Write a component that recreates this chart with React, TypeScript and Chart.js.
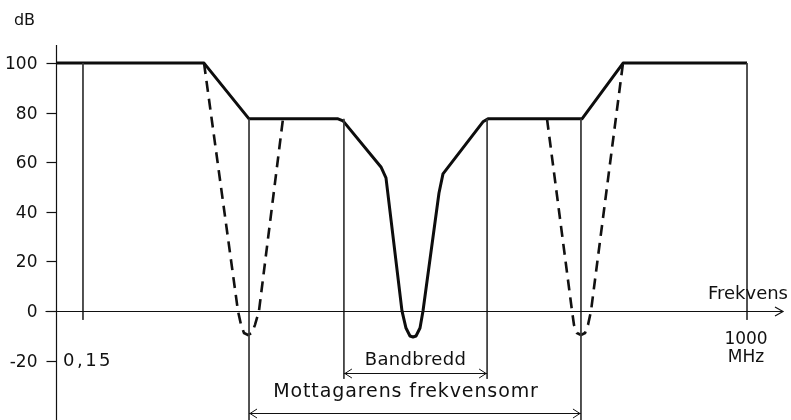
import React, { useEffect, useRef } from "react";
import { Chart, registerables } from "chart.js";

Chart.register(...registerables);

// Horizontal position is relative: 0 = dB axis, 100 = tip of the frequency arrow.
// Receiver response curve (solid)
const responseX = [0, 20.36, 26.55, 38.79, 39.48, 44.7, 45.39, 47.59, 48.14, 48.69, 49.11, 49.52, 50.07, 50.48, 52.68, 53.23, 58.73, 59.42, 72.35, 78.0, 95.05];
const responseDb = [100, 100, 77.5, 77.5, 76.7, 58.1, 53.7, 0, -6.9, -10.1, -10.5, -10.1, -6.9, 0, 47.6, 55.3, 76.3, 77.5, 77.5, 100, 100];

// Spurious responses (dashed)
const lowNotchX = [20.36, 25.03, 25.45, 25.86, 26.41, 26.96, 27.37, 27.92, 31.22];
const lowNotchDb = [100, 0, -5.6, -8.9, -9.7, -8.9, -5.6, 0, 77.5];
const highNotchX = [67.54, 70.98, 71.25, 71.66, 72.21, 72.77, 73.18, 73.59, 77.99];
const highNotchDb = [77.5, 0, -5.6, -8.9, -9.7, -8.9, -5.6, 0, 100];

// Thin vertical guides
const guideX = [3.71, 26.55, 39.6, 59.3, 72.21, 95.05];
const guideTop = [100, 77.5, 77.5, 77.5, 77.5, 100];
const guideBottom = [-3.6, -44, -27.4, -27.4, -44, -3.6];

// Y axis ticks
const yTicks = [100, 80, 60, 40, 20, 0, -20];
const yTickLabels = ["100", "80", "60", "40", "20", "0", "-20"];

// Frequency marks
const freqMarkX = [3.71, 95.05];
const freqMarkLabels = ["0,15", "1000"];
const freqUnit = "MHz";

// Dimension lines: [from, to, level]
const bandwidthSpan = [39.6, 59.3, -25];
const rangeSpan = [26.55, 72.21, -41.2];
const bandwidthLabel = "Bandbredd";
const rangeLabel = "Mottagarens frekvensomr";
const xAxisLabel = "Frekvens";
const yAxisLabel = "dB";

const X_MIN = 0;
const X_MAX = 100;
const Y_MIN = -44;
const Y_MAX = 107.3;

const FONT = "DejaVu Sans";

const pts = (xs: number[], ys: number[]) => xs.map((x, i) => ({ x, y: ys[i] }));

const annotationPlugin = {
  id: "schematicAxes",
  afterDatasetsDraw(chart: any) {
    const { ctx, chartArea } = chart;
    const xs = chart.scales.x;
    const ys = chart.scales.y;
    const px = (v: number) => xs.getPixelForValue(v);
    const py = (v: number) => ys.getPixelForValue(v);

    ctx.save();
    ctx.strokeStyle = "#111";
    ctx.fillStyle = "#111";
    ctx.lineWidth = 1.2;

    const x0 = Math.round(px(0)) + 0.5;
    const y0 = Math.round(py(0)) + 0.5;

    // dB axis
    ctx.beginPath();
    ctx.moveTo(x0, chartArea.top);
    ctx.lineTo(x0, chartArea.bottom);
    ctx.stroke();

    // frequency axis with arrow
    const xEnd = px(X_MAX);
    ctx.beginPath();
    ctx.moveTo(x0 - 11, y0);
    ctx.lineTo(xEnd, y0);
    ctx.moveTo(xEnd - 8, y0 - 4.5);
    ctx.lineTo(xEnd, y0);
    ctx.lineTo(xEnd - 8, y0 + 4.5);
    ctx.stroke();

    // y ticks and labels
    ctx.font = `17px "${FONT}"`;
    ctx.textAlign = "right";
    ctx.textBaseline = "middle";
    yTicks.forEach((t, i) => {
      const y = Math.round(py(t)) + 0.5;
      ctx.beginPath();
      ctx.moveTo(x0 - 10, y);
      ctx.lineTo(x0, y);
      ctx.stroke();
      ctx.fillText(yTickLabels[i], x0 - 19, y + 1);
    });

    // dB label
    ctx.textAlign = "center";
    ctx.textBaseline = "alphabetic";
    ctx.font = `16px "${FONT}"`;
    ctx.fillText(yAxisLabel, x0 - 32, chartArea.top - 20);

    // frequency labels
    ctx.font = `18px "${FONT}"`;
    ctx.textAlign = "left";
    ctx.textBaseline = "middle";
    ctx.letterSpacing = "2.5px";
    ctx.fillText(freqMarkLabels[0], px(freqMarkX[0]) - 20, py(-20) + 1);
    ctx.letterSpacing = "0px";
    ctx.font = `17px "${FONT}"`;
    ctx.textAlign = "center";
    ctx.fillText(freqMarkLabels[1], px(freqMarkX[1]) - 1, y0 + 28);
    ctx.fillText(freqUnit, px(freqMarkX[1]) - 1, y0 + 46);
    ctx.font = `18px "${FONT}"`;
    ctx.textAlign = "right";
    ctx.fillText(xAxisLabel, xEnd + 5, y0 - 17);

    // dimension lines
    const dim = (span: number[], label: string, size: number, textDy: number, textDx: number, spacing: string) => {
      const a = px(span[0]);
      const b = px(span[1]);
      const y = Math.round(py(span[2])) + 0.5;
      ctx.lineWidth = 1;
      ctx.beginPath();
      ctx.moveTo(a, y);
      ctx.lineTo(b, y);
      ctx.moveTo(a + 8, y - 4.5);
      ctx.lineTo(a + 1, y);
      ctx.lineTo(a + 8, y + 4.5);
      ctx.moveTo(b - 8, y - 4.5);
      ctx.lineTo(b - 1, y);
      ctx.lineTo(b - 8, y + 4.5);
      ctx.stroke();
      ctx.font = `${size}px "${FONT}"`;
      ctx.textAlign = "center";
      ctx.textBaseline = "middle";
      ctx.letterSpacing = spacing;
      ctx.fillText(label, (a + b) / 2 + textDx, y + textDy);
      ctx.letterSpacing = "0px";
    };
    dim(bandwidthSpan, bandwidthLabel, 18, -13, 0, "0.3px");
    dim(rangeSpan, rangeLabel, 19, -21, -9, "0.9px");

    ctx.restore();
  },
};

export default function App() {
  const canvasRef = useRef<HTMLCanvasElement | null>(null);

  useEffect(() => {
    if (!canvasRef.current) return;

    const guides = guideX.map((x, i) => ({
      data: [
        { x, y: guideTop[i] },
        { x, y: guideBottom[i] },
      ],
      borderColor: "#3a3a3a",
      borderWidth: 1,
      pointRadius: 0,
      fill: false,
      clip: false as const,
    }));

    const chart = new Chart(canvasRef.current, {
      type: "line",
      data: {
        datasets: [
          ...guides,
          {
            data: pts(lowNotchX, lowNotchDb),
            borderColor: "#111",
            borderWidth: 2.6,
            borderDash: [11, 7],
            pointRadius: 0,
            fill: false,
            clip: false as const,
          },
          {
            data: pts(highNotchX, highNotchDb),
            borderColor: "#111",
            borderWidth: 2.6,
            borderDash: [11, 7],
            pointRadius: 0,
            fill: false,
            clip: false as const,
          },
          {
            data: pts(responseX, responseDb),
            borderColor: "#0d0d0d",
            borderWidth: 3,
            borderJoinStyle: "round",
            pointRadius: 0,
            fill: false,
            clip: false as const,
          },
        ],
      },
      options: {
        animation: false,
        responsive: false,
        events: [],
        layout: { padding: { left: 56, right: 8, top: 45, bottom: 0 } },
        plugins: { legend: { display: false }, tooltip: { enabled: false } },
        scales: {
          x: { type: "linear", min: X_MIN, max: X_MAX, display: false },
          y: { type: "linear", min: Y_MIN, max: Y_MAX, display: false },
        },
      },
      plugins: [annotationPlugin],
    });

    return () => chart.destroy();
  }, []);

  return (
    <div style={{ position: "fixed", left: 0, top: 0, width: 791, height: 420, background: "#fff" }}>
      <canvas ref={canvasRef} width={791} height={420} style={{ display: "block" }} />
    </div>
  );
}
